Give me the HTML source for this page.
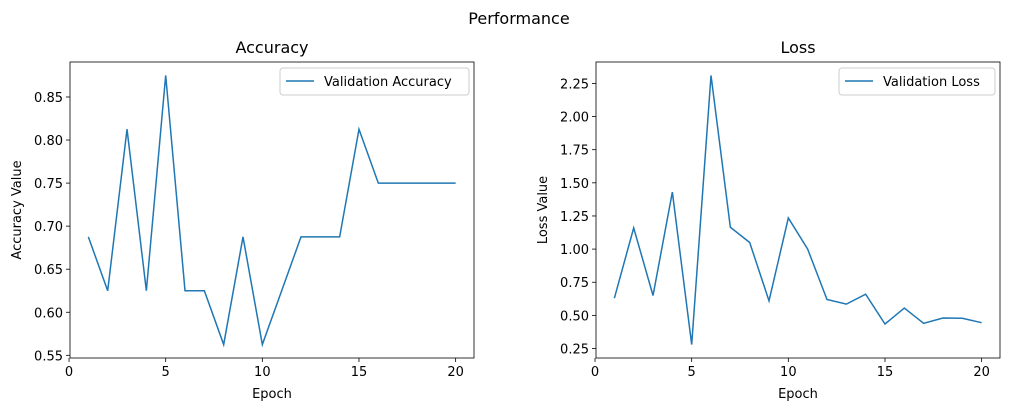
<!DOCTYPE html>
<html><head><meta charset="utf-8"><style>
body{margin:0;background:#fff}
svg text{font-family:"DejaVu Sans","Liberation Sans",sans-serif;fill:#000}
</style></head><body>
<svg id="c" width="1010" height="411" xmlns="http://www.w3.org/2000/svg">
<text x="519" y="24" font-size="16" text-anchor="middle">Performance</text>
</svg>
<script>
const epochs=[1,2,3,4,5,6,7,8,9,10,11,12,13,14,15,16,17,18,19,20];
const accValues=[0.6875,0.625,0.8125,0.625,0.875,0.625,0.625,0.5625,0.6875,0.5625,0.625,0.6875,0.6875,0.6875,0.8125,0.75,0.75,0.75,0.75,0.75];
const lossValues=[0.63,1.16,0.65,1.43,0.28,2.31,1.165,1.05,0.61,1.235,1.0,0.62,0.585,0.66,0.435,0.555,0.44,0.48,0.478,0.445];
const xTicks=[0,5,10,15,20];
const accTicks=[0.55,0.60,0.65,0.70,0.75,0.80,0.85];
const lossTicks=[0.25,0.50,0.75,1.00,1.25,1.50,1.75,2.00,2.25];
const NS="http://www.w3.org/2000/svg";
const svg=document.getElementById('c');
function mk(t,a,p){const e=document.createElementNS(NS,t);for(const k in a)e.setAttribute(k,a[k]);(p||svg).appendChild(e);return e;}
function panel(o){
  const L=o.left,R=o.left+404,T=62,B=358;
  const g=mk('g',{});
  
  
  const xmin=0.05,xmax=20.95;
  const X=v=>L+(v-xmin)/(xmax-xmin)*(R-L);
  const ys=o.vals,ymn=Math.min(...ys),ymx=Math.max(...ys),m=(ymx-ymn)*0.05;
  const Y=v=>B-(v-(ymn-m))/((ymx+m)-(ymn-m))*(B-T);
  const t=mk('text',{x:(L+R)/2,y:53,'font-size':16,'text-anchor':'middle'},g);t.textContent=o.title;
  
  
  xTicks.forEach(v=>{const x=X(v);mk('line',{x1:x,x2:x,y1:B,y2:B+4,stroke:'#000','stroke-width':0.8},g);
    const tx=mk('text',{x:x,y:B+18,'font-size':13,'text-anchor':'middle'},g);tx.textContent=v;
    
    });
  o.ticks.forEach(v=>{const y=Y(v);mk('line',{x1:L-4,x2:L,y1:y,y2:y,stroke:'#000','stroke-width':0.8},g);
    const tx=mk('text',{x:L-7,y:y+5,'font-size':13,'text-anchor':'end'},g);tx.textContent=v.toFixed(2);
    
    });
  const xl=mk('text',{x:(L+R)/2,y:398,'font-size':13,'text-anchor':'middle'},g);xl.textContent='Epoch';
  
  
  const yl=mk('text',{x:0,y:0,'font-size':13,'text-anchor':'middle',transform:`translate(${o.ylx},${(T+B)/2}) rotate(-90)`},g);yl.textContent=o.ylabel;
  
  
  const pl=mk('polyline',{points:epochs.map((e,i)=>X(e)+','+Y(ys[i])).join(' '),fill:'none',stroke:'#1f77b4','stroke-width':1.5},g);
  
  
  mk('rect',{x:L,y:T,width:R-L,height:B-T,fill:'none',stroke:'#000','stroke-width':0.8},g);
  const lg=mk('g',{},g);
  
  
  mk('rect',{x:R-5-o.lw,y:68,width:o.lw,height:27,rx:3,fill:'#fff',stroke:'#ccc','stroke-width':1},lg);
  mk('line',{x1:R-5-o.lw+6,x2:R-5-o.lw+34,y1:81,y2:81,stroke:'#1f77b4','stroke-width':1.5},lg);
  const lt=mk('text',{x:R-5-o.lw+44,y:86,'font-size':13},lg);lt.textContent=o.legend;
}
panel({left:70,name:'accuracy',title:'Accuracy',vals:accValues,ticks:accTicks,ylabel:'Accuracy Value',ylx:21,legend:'Validation Accuracy',lw:189});
panel({left:596,name:'loss',title:'Loss',vals:lossValues,ticks:lossTicks,ylabel:'Loss Value',ylx:547,legend:'Validation Loss',lw:156});
</script>
</body></html>
